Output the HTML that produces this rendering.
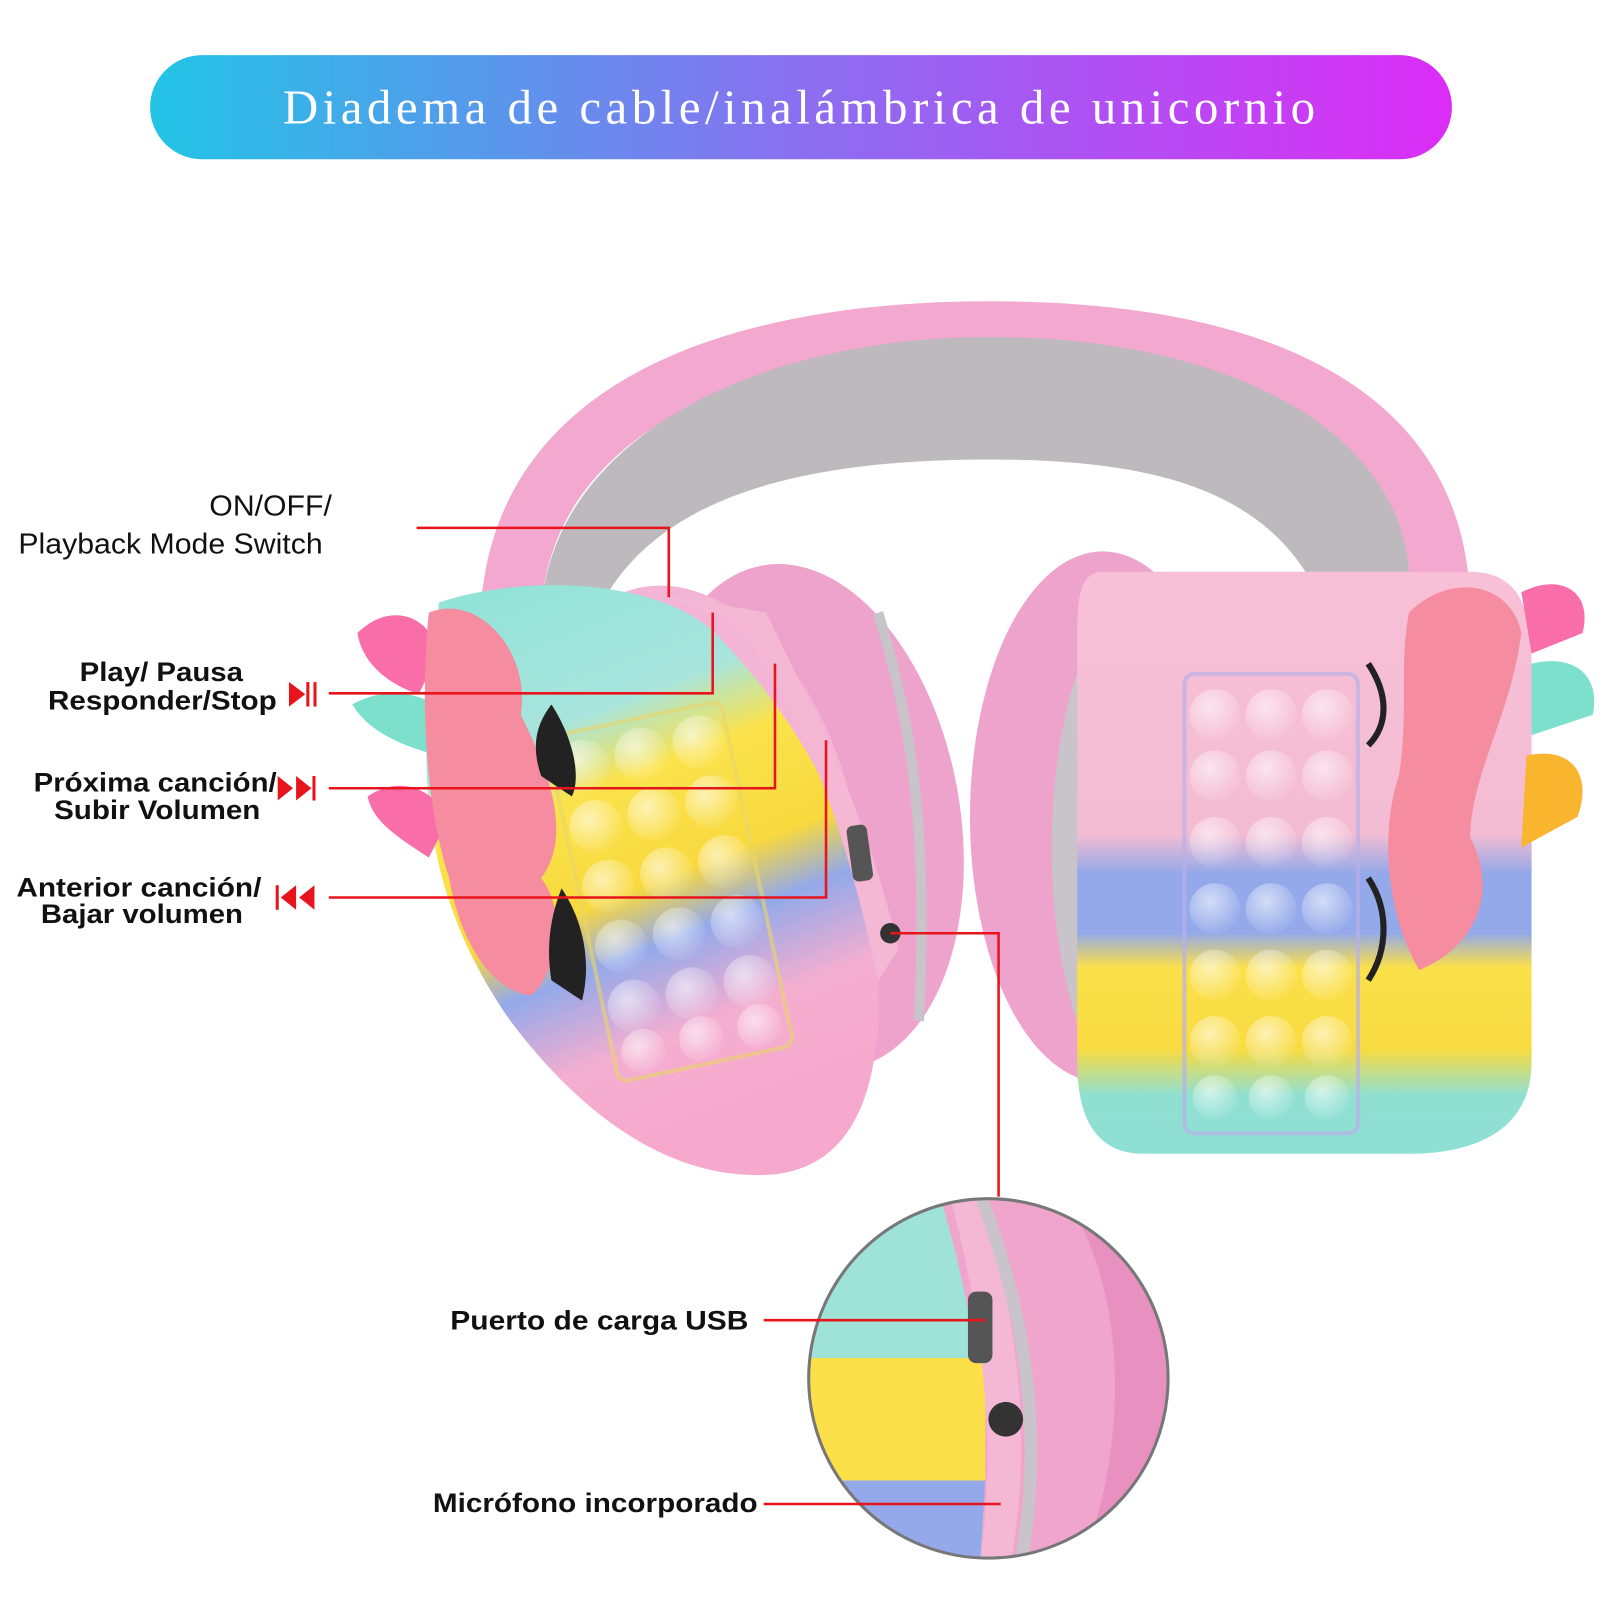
<!DOCTYPE html>
<html><head><meta charset="utf-8"><style>
html,body{margin:0;padding:0;background:#fff;}
svg{display:block}
</style></head><body>
<svg width="1601" height="1601" viewBox="0 0 1568 1568" xmlns="http://www.w3.org/2000/svg">
<defs>
<linearGradient id="tb" x1="0" x2="1" y1="0" y2="0">
<stop offset="0" stop-color="#22c4e6"/><stop offset="0.5" stop-color="#8a6ff0"/><stop offset="1" stop-color="#dc2cf6"/></linearGradient>
<linearGradient id="lc" x1="0" y1="0" x2="0.3" y2="1">
<stop offset="0" stop-color="#8fe3d8"/><stop offset="0.3" stop-color="#a8e4dc"/><stop offset="0.42" stop-color="#fbe34c"/><stop offset="0.6" stop-color="#f8d93e"/><stop offset="0.7" stop-color="#93a9ea"/><stop offset="0.85" stop-color="#f4aed0"/><stop offset="1" stop-color="#f6a9cc"/></linearGradient>
<linearGradient id="rc" x1="0" y1="0" x2="0" y2="1">
<stop offset="0" stop-color="#f8c0d6"/><stop offset="0.45" stop-color="#f3bcd2"/><stop offset="0.52" stop-color="#93a9ea"/><stop offset="0.62" stop-color="#93a9ea"/><stop offset="0.68" stop-color="#fbe04a"/><stop offset="0.82" stop-color="#f8db40"/><stop offset="0.9" stop-color="#90e0d2"/><stop offset="1" stop-color="#8ee0d4"/></linearGradient>
<radialGradient id="bub" cx="0.4" cy="0.35" r="0.7"><stop offset="0" stop-color="#fff" stop-opacity="0.6"/><stop offset="1" stop-color="#fff" stop-opacity="0"/></radialGradient>
<clipPath id="zc"><circle cx="968" cy="1350" r="176"/></clipPath>
</defs>
<rect width="1568" height="1568" fill="#fff"/>
<rect x="147" y="54" width="1275" height="102" rx="51" fill="url(#tb)"/>
<text x="277" y="121" textLength="1011" lengthAdjust="spacing" font-family="Liberation Serif, serif" font-size="48" fill="#fff">Diadema de cable/inalámbrica de unicornio</text>

<!-- headband -->
<path d="M470 620 C470 380 700 295 970 295 C1240 295 1440 380 1440 600 L1380 600 C1380 440 1200 340 970 340 C740 340 540 420 530 600 Z" fill="#f2a8cf"/>
<path d="M530 600 C540 430 740 330 970 330 C1200 330 1370 420 1380 560 L1290 580 C1240 480 1130 450 970 450 C800 450 650 480 590 590 Z" fill="#bdb9bd"/>
<!-- cushions -->
<ellipse cx="790" cy="800" rx="150" ry="250" fill="#eea3cc" transform="rotate(-10 790 800)"/>
<ellipse cx="680" cy="830" rx="160" ry="260" fill="#f3b4d5" transform="rotate(-12 680 830)"/>
<ellipse cx="1080" cy="800" rx="130" ry="260" fill="#eea3cc"/>
<ellipse cx="1140" cy="830" rx="110" ry="270" fill="#c9c4c9"/>
<!-- left cup -->
<path d="M430 590 C520 560 650 570 700 620 C780 700 850 820 860 950 C865 1060 840 1140 760 1150 C650 1160 560 1080 500 1000 C430 900 410 800 420 680 Z" fill="url(#lc)"/>
<g transform="rotate(-12 660 880)">
<rect x="570" y="700" width="175" height="345" rx="10" fill="none" stroke="#e8d66a" stroke-width="4" opacity="0.6"/>
<g fill="url(#bub)">
<circle cx="600" cy="735" r="26"/><circle cx="658" cy="735" r="26"/><circle cx="716" cy="735" r="26"/>
<circle cx="600" cy="795" r="26"/><circle cx="658" cy="795" r="26"/><circle cx="716" cy="795" r="26"/>
<circle cx="600" cy="855" r="26"/><circle cx="658" cy="855" r="26"/><circle cx="716" cy="855" r="26"/>
<circle cx="600" cy="915" r="26"/><circle cx="658" cy="915" r="26"/><circle cx="716" cy="915" r="26"/>
<circle cx="600" cy="975" r="26"/><circle cx="658" cy="975" r="26"/><circle cx="716" cy="975" r="26"/>
<circle cx="600" cy="1020" r="22"/><circle cx="658" cy="1020" r="22"/><circle cx="716" cy="1020" r="22"/>
</g></g>
<!-- left mane/horn -->
<path d="M350 620 C380 590 420 600 430 640 L410 680 C380 670 355 650 350 620 Z" fill="#f96ea8"/>
<path d="M345 690 C380 670 420 680 440 700 L430 740 C390 730 360 715 345 690 Z" fill="#7de0cc"/>
<path d="M360 780 C390 760 420 770 440 800 L420 840 C390 820 365 805 360 780 Z" fill="#f96ea8"/>
<path d="M420 600 C470 580 520 640 510 700 C540 760 560 820 530 860 C560 900 540 960 520 975 C480 970 450 920 440 860 C420 800 410 700 420 600 Z" fill="#f58ca0"/>
<path d="M540 690 C560 720 570 760 560 780 L530 760 C520 730 525 710 540 690 Z" fill="#222"/>
<path d="M550 870 C570 900 580 940 570 980 L540 960 C535 930 538 900 550 870 Z" fill="#222"/>
<!-- left controls -->
<path d="M640 580 L750 600 C800 700 850 800 880 930 L860 960 C830 820 790 700 720 610 Z" fill="#f4b7d4"/>
<path d="M860 600 C890 700 910 800 900 1000" fill="none" stroke="#c9c4c9" stroke-width="10"/>
<rect x="832" y="808" width="20" height="55" rx="6" fill="#555" transform="rotate(-8 842 835)"/>
<circle cx="872" cy="914" r="10" fill="#333"/>
<!-- right cup -->
<path d="M1080 560 L1440 560 C1490 560 1500 600 1500 650 L1500 1040 C1500 1110 1440 1130 1380 1130 L1120 1130 C1070 1130 1055 1090 1055 1040 L1055 620 C1055 580 1060 560 1080 560 Z" fill="url(#rc)"/>
<rect x="1160" y="660" width="170" height="450" rx="10" fill="none" stroke="#b8b0e8" stroke-width="4" opacity="0.7"/>
<g fill="url(#bub)">
<circle cx="1190" cy="700" r="25"/><circle cx="1245" cy="700" r="25"/><circle cx="1300" cy="700" r="25"/>
<circle cx="1190" cy="760" r="25"/><circle cx="1245" cy="760" r="25"/><circle cx="1300" cy="760" r="25"/>
<circle cx="1190" cy="825" r="25"/><circle cx="1245" cy="825" r="25"/><circle cx="1300" cy="825" r="25"/>
<circle cx="1190" cy="890" r="25"/><circle cx="1245" cy="890" r="25"/><circle cx="1300" cy="890" r="25"/>
<circle cx="1190" cy="955" r="25"/><circle cx="1245" cy="955" r="25"/><circle cx="1300" cy="955" r="25"/>
<circle cx="1190" cy="1020" r="25"/><circle cx="1245" cy="1020" r="25"/><circle cx="1300" cy="1020" r="25"/>
<circle cx="1190" cy="1075" r="22"/><circle cx="1245" cy="1075" r="22"/><circle cx="1300" cy="1075" r="22"/>
</g>
<path d="M1380 600 C1420 560 1480 570 1490 620 C1480 700 1440 760 1440 820 C1470 880 1440 930 1390 950 C1360 900 1350 820 1370 760 C1380 700 1370 650 1380 600 Z" fill="#f58ca0"/>
<path d="M1490 580 C1530 560 1560 580 1550 620 L1500 640 Z" fill="#f96ea8"/>
<path d="M1500 650 C1540 640 1568 660 1560 700 L1500 720 Z" fill="#7de0cc"/>
<path d="M1495 740 C1540 730 1560 760 1545 800 L1490 830 Z" fill="#f9b52e"/>
<path d="M1340 650 C1360 680 1360 710 1340 730" fill="none" stroke="#222" stroke-width="6"/>
<path d="M1340 860 C1360 890 1360 930 1340 960" fill="none" stroke="#222" stroke-width="6"/>

<!-- zoom circle -->
<g clip-path="url(#zc)">
<rect x="790" y="1170" width="360" height="360" fill="#f0a6cc"/>
<path d="M790 1170 L920 1170 C960 1300 970 1420 960 1530 L790 1530 Z" fill="#9fe2d8"/>
<path d="M790 1330 L965 1330 L965 1450 L790 1450 Z" fill="#fbe04a"/>
<path d="M790 1450 L965 1450 L960 1530 L790 1530 Z" fill="#93a9ea"/>
<path d="M900 1170 L960 1170 C1000 1300 1010 1420 990 1530 L960 1530 C975 1420 965 1300 930 1170 Z" fill="#f4b7d4"/>
<path d="M960 1170 C1010 1300 1020 1420 1000 1530" fill="none" stroke="#c9c4c9" stroke-width="12"/>
<rect x="948" y="1265" width="24" height="70" rx="8" fill="#555"/>
<circle cx="985" cy="1390" r="17" fill="#333"/>
<path d="M1040 1170 C1100 1250 1110 1400 1060 1530 L1150 1530 L1150 1170 Z" fill="#e891c0"/>
</g>
<circle cx="968" cy="1350" r="176" fill="none" stroke="#777" stroke-width="3"/>

<!-- labels -->
<g font-family="Liberation Sans, sans-serif" fill="#111">
<text x="205" y="505" textLength="120" lengthAdjust="spacingAndGlyphs" font-size="28">ON/OFF/</text>
<text x="18" y="542" textLength="298" lengthAdjust="spacingAndGlyphs" font-size="28">Playback Mode Switch</text>
<g font-weight="bold" font-size="26">
<text x="78" y="667" textLength="160" lengthAdjust="spacingAndGlyphs">Play/ Pausa</text>
<text x="47" y="695" textLength="224" lengthAdjust="spacingAndGlyphs">Responder/Stop</text>
<text x="33" y="775" textLength="238" lengthAdjust="spacingAndGlyphs">Próxima canción/</text>
<text x="53" y="802" textLength="202" lengthAdjust="spacingAndGlyphs">Subir Volumen</text>
<text x="16" y="878" textLength="240" lengthAdjust="spacingAndGlyphs">Anterior canción/</text>
<text x="40" y="904" textLength="198" lengthAdjust="spacingAndGlyphs">Bajar volumen</text>
<text x="441" y="1302" textLength="292" lengthAdjust="spacingAndGlyphs">Puerto de carga USB</text>
<text x="424" y="1481" textLength="318" lengthAdjust="spacingAndGlyphs">Micrófono incorporado</text>
</g></g>
<!-- icons -->
<g fill="#e8141c">
<path d="M283 668 L299 680 L283 692 Z"/><rect x="300" y="668" width="3" height="24"/><rect x="307" y="668" width="3" height="24"/>
<path d="M272 760 L287 772 L272 784 Z"/><path d="M290 760 L305 772 L290 784 Z"/><rect x="306" y="760" width="3" height="24"/>
<rect x="270" y="867" width="3" height="24"/><path d="M290 867 L275 879 L290 891 Z"/><path d="M308 867 L293 879 L308 891 Z"/>
</g>
<!-- red connectors -->
<g fill="none" stroke="#e8141c" stroke-width="2.5">
<polyline points="408,517 655,517 655,585"/>
<polyline points="322,679 698,679 698,600"/>
<polyline points="322,772 759,772 759,650"/>
<polyline points="322,879 809,879 809,725"/>
<polyline points="872,914 978,914 978,1172"/>
<line x1="748" y1="1293" x2="965" y2="1293"/>
<line x1="748" y1="1473" x2="980" y2="1473"/>
</g>
</svg>
</body></html>
